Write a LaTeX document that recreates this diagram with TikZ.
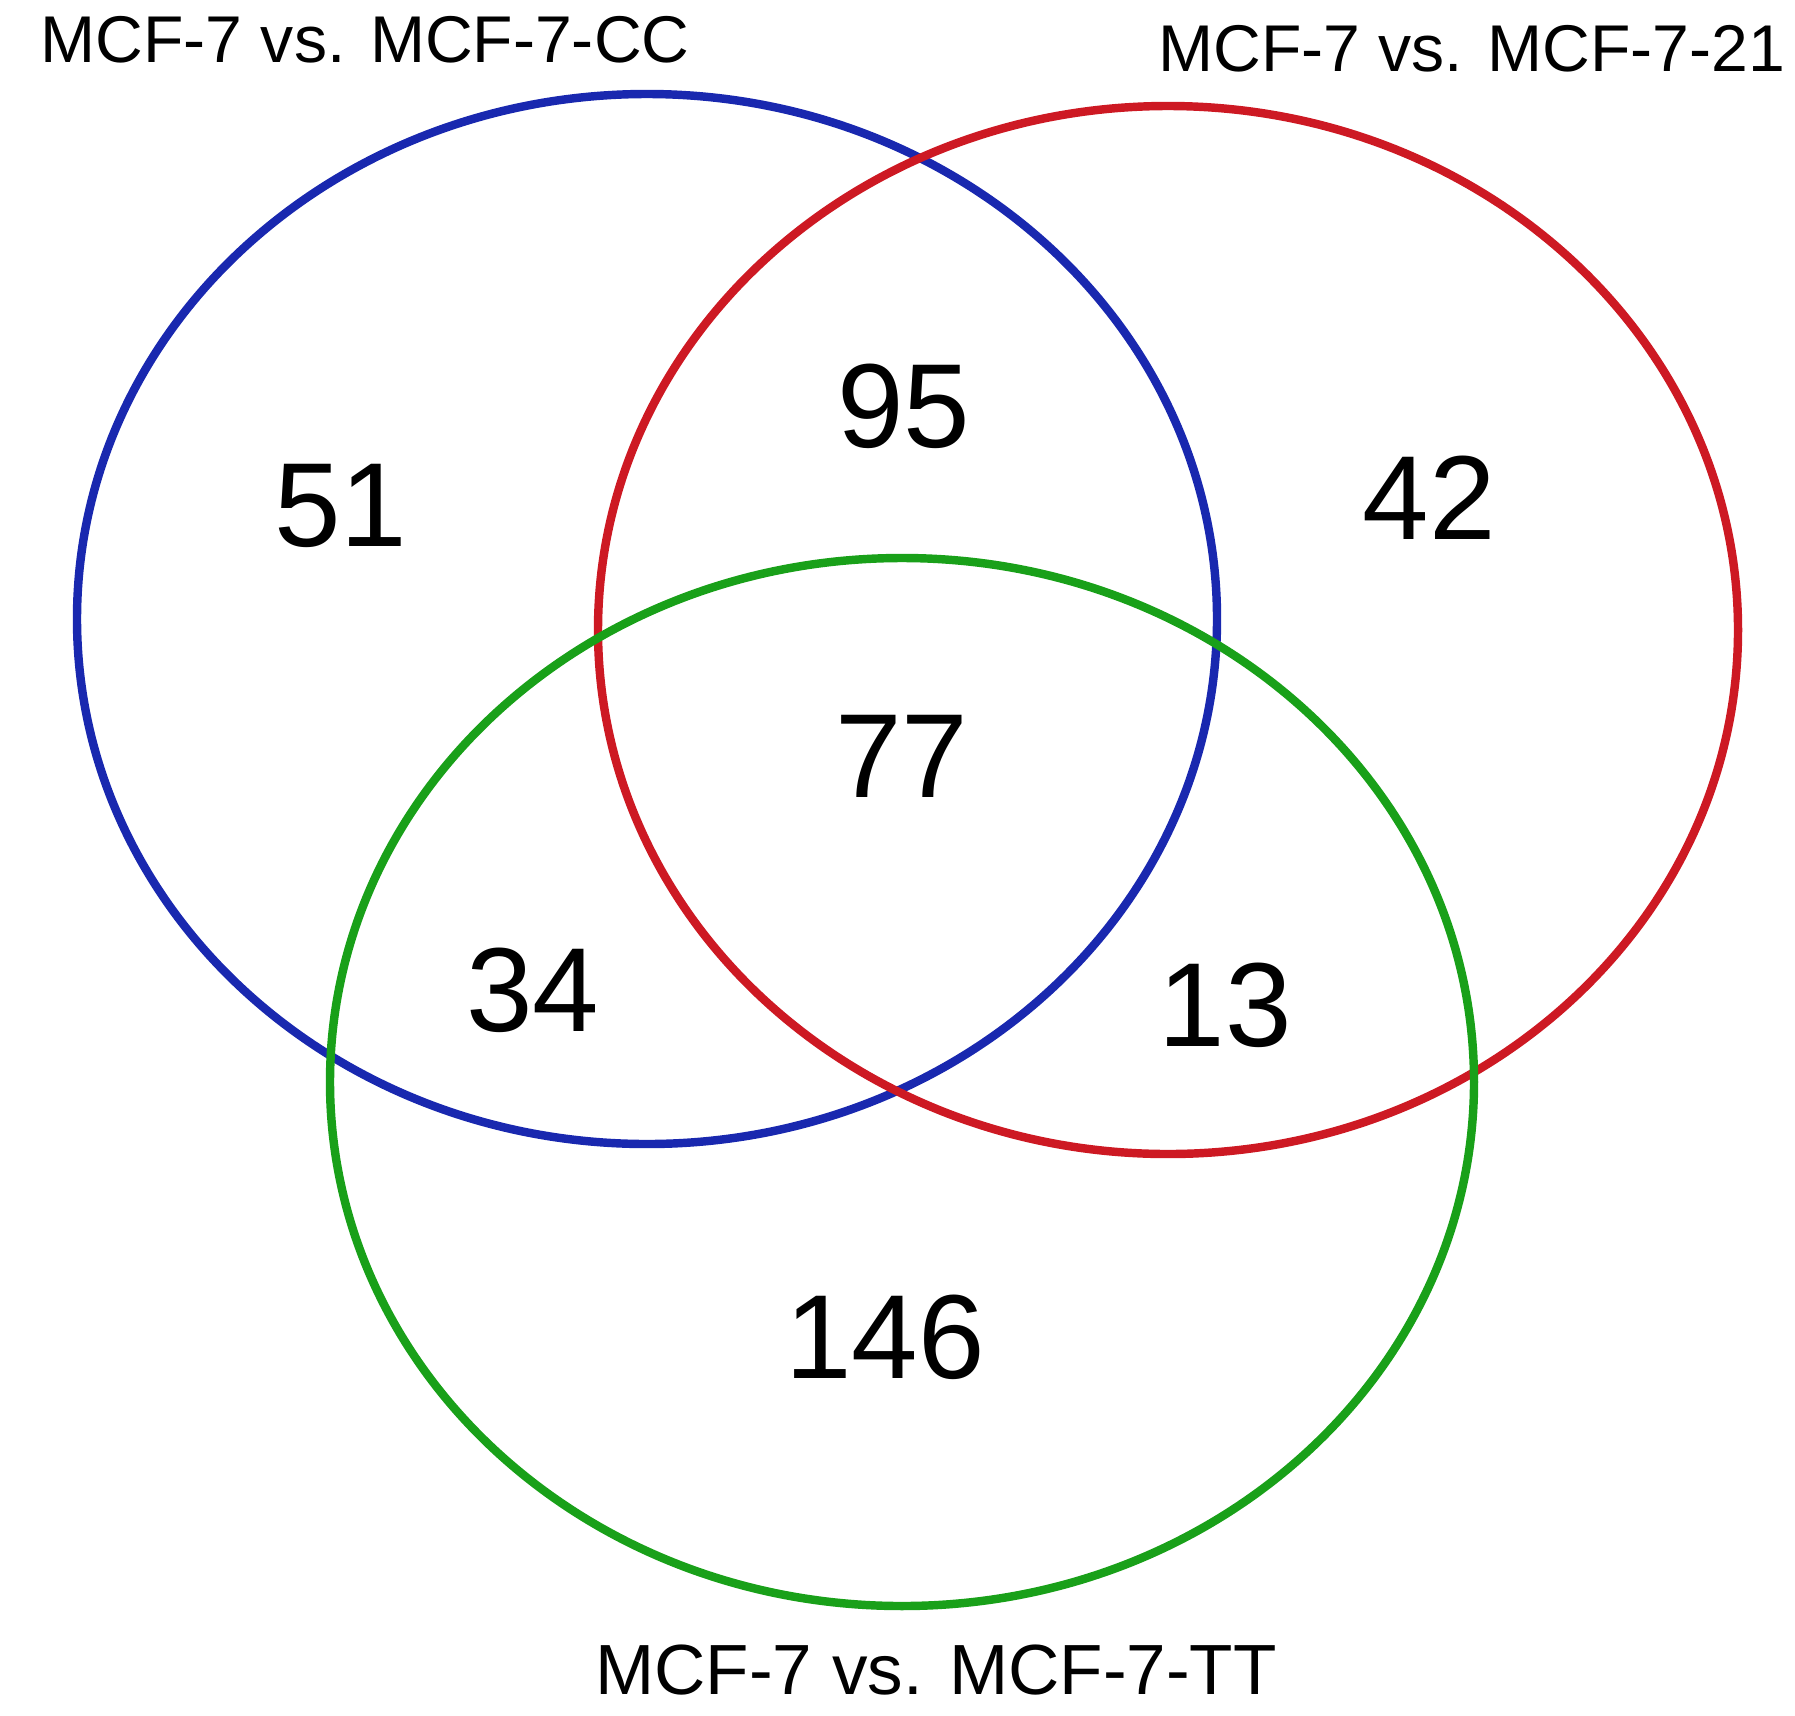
\documentclass[tikz,border=0pt]{standalone}
\usepackage{fontspec}
\setmainfont{Liberation Sans}
\usepackage{tikz}
\definecolor{vblue}{RGB}{25,40,175}
\definecolor{vred}{RGB}{205,25,35}
\definecolor{vgreen}{RGB}{25,160,25}
\tikzset{
	set/.style={line width=2.4pt,draw=#1},
	num/.style={inner sep=0pt,font=\fontsize{34}{40}\selectfont},
	setname/.style={inner sep=0pt,font=\fontsize{#1}{22}\selectfont}
}

\begin{document}
\begin{tikzpicture}[x=0.01cm,y=-0.01cm]
	\useasboundingbox (0,0) rectangle (1795,1715);
	\draw [set=vblue] (647,619) ellipse [x radius=570, y radius=525];
	\draw [set=vred] (1168,630) ellipse [x radius=570, y radius=524];
	\draw [set=vgreen] (902,1082) ellipse [x radius=572, y radius=524];

	\node [setname=18.8,anchor=base west] (cc) at (40,62) {MCF-7 vs. MCF-7-CC};
	\node [setname=18.8,anchor=base east] (tw) at (1786,71) {MCF-7 vs. MCF-7-21};
	\node [setname=20.2,anchor=base] (tt) at (936,1694) {MCF-7 vs. MCF-7-TT};

	\node [num] (a) at (341,506) {51};
	\node [num] (ab) at (904,406) {95};
	\node [num] (b) at (1429,498) {42};
	\node [num] (abc) at (902,756) {77};
	\node [num] (ac) at (533,990) {34};
	\node [num] (bc) at (1225,1005) {13};
	\node [num] (c) at (885,1337) {146};
\end{tikzpicture}
\end{document}
